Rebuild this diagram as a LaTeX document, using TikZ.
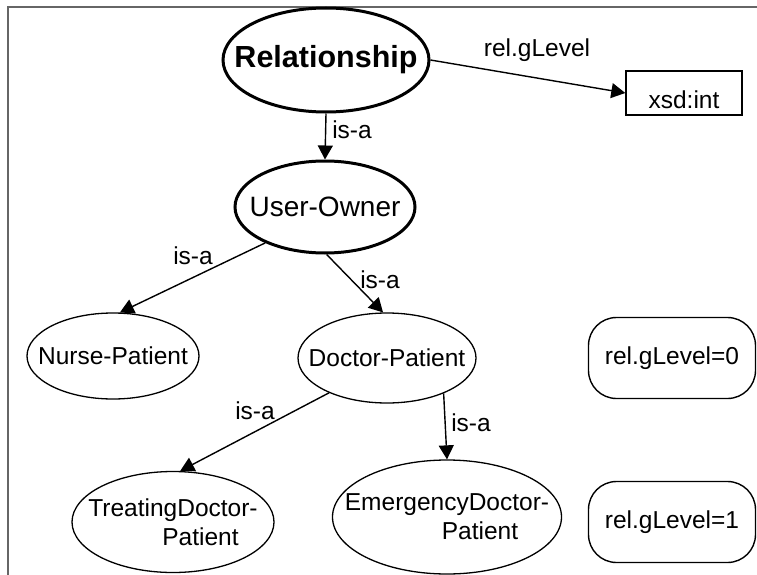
\documentclass[tikz,border=0pt]{standalone}
\usepackage{fontspec}
\setmainfont{Liberation Sans}
\usetikzlibrary{shapes.geometric}
\usetikzlibrary{arrows.meta}
\tikzset{
  concept/.style={ellipse, draw, line width=1.3pt, inner sep=0pt},
  mainconcept/.style={concept, line width=3pt},
  valbox/.style={draw, line width=1.4pt, rounded corners=28pt, minimum width=167pt, minimum height=81pt, inner sep=0pt},
  isa/.style={-{Triangle[length=14pt,width=15pt]}, line width=1.4pt},
  edgelbl/.style={inner sep=0pt}
}
\newcommand{\concept}[6]{\node[concept, minimum width=#3, minimum height=#4, label={[align=left]center:{#6}}] (#5) at (#1,#2) {};}
\newcommand{\isalabel}[3]{\node[edgelbl] (#3) at (#1,#2) {is-a};}
\begin{document}
\begin{tikzpicture}[x=1pt, y=-1pt, font=\fontsize{24.5}{29}\selectfont]
        \useasboundingbox (0,0) rectangle (757,575);
        % frame
        \draw[gray!80!black, line width=1.5pt] (757,7) -- (8,7) -- (8,575);
        % top concepts
        \node[mainconcept, minimum width=206pt, minimum height=104pt, label={center:\fontsize{30.5}{34}\selectfont\bfseries Relationship}] (rel) at (326,60) {};
        \node[mainconcept, minimum width=180pt, minimum height=92pt, label={center:\fontsize{28}{32}\selectfont User-Owner}] (uo) at (325,207) {};
        \node[draw, line width=1.4pt, minimum width=116pt, minimum height=44pt, label={[yshift=-7pt]center:{xsd:int}}] (xsd) at (684,93) {};
        % second row
        \concept{113}{356}{172pt}{86pt}{np}{Nurse-Patient}
        \concept{387}{358}{178pt}{90pt}{dp}{Doctor-Patient}
        % third row
        \concept{173}{522}{202pt}{101pt}{tdp}{TreatingDoctor-\\\hspace*{74pt}Patient}
        \concept{447}{517}{229pt}{114pt}{edp}{EmergencyDoctor-\\\hspace*{97pt}Patient}
        % levels
        \node[valbox] (lvl0) at (672,358) {rel.gLevel=0};
        \node[valbox] (lvl1) at (672,522) {rel.gLevel=1};
        % edges
        \draw[isa] (rel.east) -- (xsd.west);
        \draw[isa] (rel.south) -- (uo.north);
        \draw[isa] (uo.211) -- (np.81);
        \draw[isa] (uo.272) -- (dp.95);
        \draw[isa] (dp.211) -- (tdp.82);
        \draw[isa] (dp.328) -- (edp.90);
        % edge labels
        \node[edgelbl] (glvl) at (537,50) {rel.gLevel};
        \isalabel{352}{130}{isa1}
        \isalabel{193}{256}{isa2}
        \isalabel{380}{280}{isa3}
        \isalabel{255}{411}{isa4}
        \isalabel{471}{423}{isa5}
\end{tikzpicture}
\end{document}
